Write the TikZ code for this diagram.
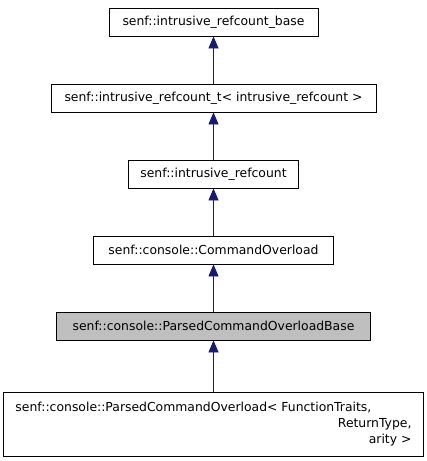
\documentclass[tikz,border=0pt]{standalone}
\usepackage{fontspec}
\setmainfont{DejaVu Sans}
\usepackage{tikz}
\usetikzlibrary{arrows.meta}

\definecolor{edgeblue}{HTML}{191970}
\definecolor{boxgray}{HTML}{BFBFBF}

\tikzset{
	classbox/.style={draw=black, line width=0.8pt, minimum height=28pt, inner sep=0pt,
		font=\fontsize{12.4}{16}\selectfont},
	inherit/.style={draw=edgeblue, line width=0.8pt, >={Triangle[width=10pt,length=12pt]}, <-}
}

\begin{document}
\begin{tikzpicture}[x=1pt,y=-1pt]
	\useasboundingbox (0,0) rectangle (427,461);
	\foreach \i/\name/\w/\y/\col in {
		1/senf::intrusive\_refcount\_base/209/22/white,
		2/senf::intrusive\_refcount\_t< intrusive\_refcount >/325/98/white,
		3/senf::intrusive\_refcount/170/174/white,
		4/senf::console::CommandOverload/240/250/white,
		5/senf::console::ParsedCommandOverloadBase/314/326/boxgray}
	{
		\node[classbox, fill=\col, minimum width=\w] (c\i) at (213.5,\y) {\name};
	}
	\node[classbox, minimum width=420, minimum height=64, align=right] (c6) at (213.5,424)
		{\makebox[396pt][l]{senf::console::ParsedCommandOverload< FunctionTraits,}\\ReturnType,\\arity >};
	\foreach \up/\down in {c1/c2, c2/c3, c3/c4, c4/c5, c5/c6}
	{
		\draw[inherit] (\up.south) -- (\down.north);
	}
\end{tikzpicture}
\end{document}
